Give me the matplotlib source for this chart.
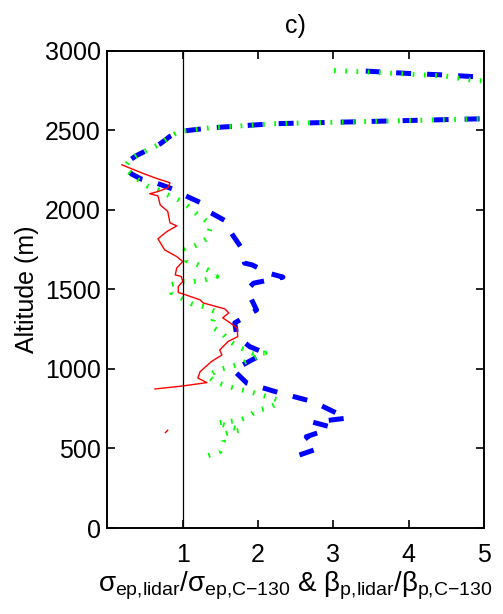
import numpy as np
import matplotlib
matplotlib.use('Agg')
import matplotlib.pyplot as plt

plt.rcParams['font.family'] = ['Liberation Sans', 'DejaVu Sans']
plt.rcParams['mathtext.fontset'] = 'custom'
plt.rcParams['mathtext.rm'] = 'Liberation Sans'
plt.rcParams['mathtext.it'] = 'Liberation Sans'
plt.rcParams['mathtext.bf'] = 'Liberation Sans:bold'

# extinction ratio (blue), values beyond x=5 are clipped by the axes
ext_x = [2.55, 2.78, 2.64, 2.84, 2.95, 2.73, 3.18, 2.73, 2.29, 1.85, 1.67, 2.09, 1.89, 1.72,
         1.69, 1.98, 1.85, 1.94, 2.33, 2.14, 1.92, 1.82, 1.78, 1.63, 1.58, 1.34, 1.25, 1.01,
         0.87, 0.63, 0.45, 0.32, 0.26, 0.25, 0.29, 0.38, 0.55, 0.70, 0.83, 0.95, 1.36, 2.20,
         3.44, 4.94, 6.50, 6.50, 4.90, 4.50, 4.00, 3.43]
ext_y = [459, 497, 574, 606, 637, 665, 691, 794, 849, 911, 994, 1100, 1140, 1203,
         1289, 1371, 1497, 1539, 1577, 1602, 1654, 1665, 1760, 1864, 1927, 1990, 2042, 2094,
         2130, 2172, 2193, 2225, 2255, 2280, 2310, 2340, 2380, 2415, 2462, 2492, 2515, 2541,
         2555, 2572, 2590, 2810, 2836, 2847, 2857, 2872]

# backscatter ratio (green)
bsc_x = [1.34, 1.49, 1.54, 1.52, 1.65, 1.78, 1.63, 1.45, 1.60, 1.76, 1.87, 1.98, 2.13, 2.27,
         2.26, 2.05, 1.89, 1.73, 1.58, 1.43, 1.33, 1.47, 1.63, 1.80, 2.09, 1.92, 1.73, 1.63,
         1.52, 1.38, 1.43, 1.27, 1.12, 0.85, 0.83, 1.00, 1.14, 1.29, 1.45, 1.33, 1.20, 1.05,
         1.03, 1.16, 1.32, 1.36, 1.32, 1.20, 1.07, 0.94, 0.80, 0.67, 0.54, 0.39, 0.25, 0.25,
         0.29, 0.38, 0.55, 0.70, 0.83, 0.95, 1.36, 2.20, 3.44, 4.94, 6.50, 6.50, 4.87, 4.50,
         4.00, 3.50, 2.97]
bsc_y = [455, 480, 543, 585, 606, 616, 637, 660, 669, 679, 700, 738, 754, 786,
         805, 836, 857, 874, 893, 920, 956, 994, 1014, 1038, 1100, 1100, 1140, 1172,
         1226, 1266, 1361, 1392, 1409, 1480, 1528, 1549, 1549, 1560, 1581, 1623, 1654, 1681,
         1748, 1774, 1818, 1881, 1927, 1969, 2021, 2063, 2094, 2126, 2147, 2195, 2252, 2283,
         2310, 2340, 2380, 2415, 2462, 2492, 2515, 2541, 2555, 2572, 2590, 2800, 2812, 2840,
         2853, 2865, 2876]

# third ratio profile (red)
red_x = [0.19, 0.45, 0.63, 0.83, 0.80, 0.67, 0.56, 0.67, 0.70, 0.80, 0.83, 0.92, 0.79, 0.67,
         0.76, 0.92, 1.00, 0.92, 0.90, 0.98, 1.00, 0.94, 0.94, 1.00, 1.23, 1.27, 1.56, 1.61,
         1.53, 1.63, 1.72, 1.73, 1.60, 1.49, 1.52, 1.38, 1.23, 1.20, 1.32, 1.00, 0.63,
         np.nan, 0.77, 0.80]
red_y = [2283, 2233, 2201, 2170, 2138, 2115, 2101, 2088, 2031, 1990, 1918, 1899, 1864, 1818,
         1748, 1706, 1675, 1635, 1591, 1581, 1549, 1518, 1480, 1472, 1434, 1415, 1377, 1352,
         1321, 1289, 1258, 1203, 1172, 1119, 1088, 1046, 983, 943, 914, 893, 874,
         np.nan, 600, 615]

fig = plt.figure(figsize=(5.03, 6.14), dpi=100)
ax = fig.add_axes([0.2137, 0.140, 0.7485, 0.7774])

ax.plot(ext_x, ext_y, color='#0000ff', lw=3.6, linestyle=(0, (3.0, 3.2)))
ax.plot(bsc_x, bsc_y, color='#00ff00', lw=3.6, linestyle=(0, (0.35, 1.9)))
ax.plot(red_x, red_y, color='#ff0000', lw=1.0)
ax.axvline(1, color='black', lw=0.9)

ax.set_xlim(0, 5)
ax.set_ylim(0, 3000)
ax.set_xticks([1, 2, 3, 4, 5])
ax.set_yticks([0, 500, 1000, 1500, 2000, 2500, 3000])
ax.tick_params(direction='in', length=6, width=1.2, top=True, right=True, labelsize=18)
ax.tick_params(axis='x', pad=11)
ax.tick_params(axis='y', pad=5)
for s in ax.spines.values():
    s.set_linewidth(1.4)

ax.set_ylabel('Altitude (m)', fontsize=18, labelpad=4)
ax.set_xlabel(r'$\sigma_{ep{,}lidar}/\sigma_{ep{,}C\text{−}130}$ & '
              r'$\beta_{p{,}lidar}/\beta_{p{,}C\text{−}130}$',
              fontsize=20, labelpad=2)
ax.set_title('c)', fontsize=18, pad=13)

plt.savefig('out.png', dpi=100)
